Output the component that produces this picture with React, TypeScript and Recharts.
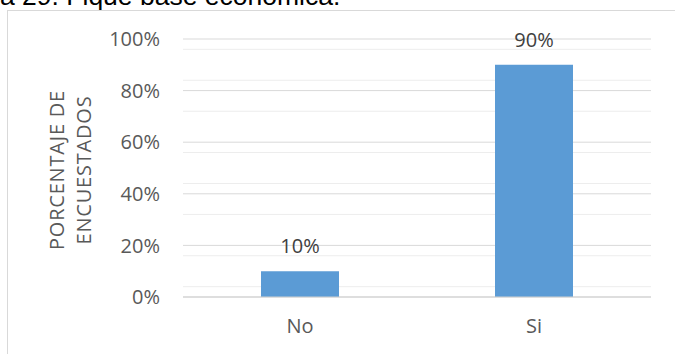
import React from "react";
import {
  BarChart,
  Bar,
  XAxis,
  YAxis,
  CartesianGrid,
  LabelList,
} from "recharts";

const categories = ["No", "Si"];
const shares = [10, 90];
const yTicks = [0, 20, 40, 60, 80, 100];
const minorTicks = [4, 8, 12, 16, 24, 28, 32, 36, 44, 48, 52, 56, 64, 68, 72, 76, 84, 88, 92, 96];
const yAxisLines = ["PORCENTAJE DE", "ENCUESTADOS"];
const caption = "a 29. Fique base económica.";

const data = categories.map((name, i) => ({ name, value: shares[i] }));

const FONT = "'Open Sans', sans-serif";
const pct = (v: number) => `${v}%`;

function AxisTitle(props: any) {
  const { viewBox } = props;
  const cy = viewBox.y + viewBox.height / 2 + 2;
  const xs = [viewBox.x + 56, viewBox.x + 83];
  return (
    <g>
      {yAxisLines.map((line, i) => (
        <text
          key={line}
          x={xs[i]}
          y={cy}
          transform={`rotate(-90, ${xs[i]}, ${cy})`}
          textAnchor="middle"
          dominantBaseline="central"
          fill="#595959"
          fontSize={20}
          letterSpacing={0.8}
          fontFamily={FONT}
        >
          {line}
        </text>
      ))}
    </g>
  );
}

export default function App() {
  return (
    <div
      style={{
        position: "absolute",
        left: 0,
        top: 0,
        width: 675,
        height: 354,
        overflow: "hidden",
        background: "#fff",
      }}
    >
      <div
        style={{
          position: "absolute",
          left: 0,
          top: -17,
          fontFamily: "'Liberation Sans', Arial, sans-serif",
          fontSize: 26.5,
          lineHeight: "26px",
          color: "#000",
          whiteSpace: "nowrap",
        }}
      >
        {caption}
      </div>
      <div
        style={{
          position: "absolute",
          left: 7,
          top: 10,
          width: 720,
          height: 400,
          border: "1px solid #d9d9d9",
        }}
      />
      <div style={{ position: "absolute", left: 0, top: 0 }}>
        <BarChart
          width={675}
          height={354}
          data={data}
          margin={{ top: 39, right: 24, bottom: 0, left: 0 }}
          style={{ fontFamily: FONT }}
        >
          <CartesianGrid
            vertical={false}
            horizontalValues={minorTicks}
            stroke="#ededed"
            strokeWidth={1}
          />
          <CartesianGrid
            vertical={false}
            horizontalValues={yTicks}
            stroke="#d9d9d9"
            strokeWidth={1}
          />
          <XAxis
            dataKey="name"
            height={57}
            tickLine={false}
            axisLine={{ stroke: "#d0d0d0" }}
            tickMargin={16}
            tick={{ fill: "#595959", fontSize: 20 }}
          />
          <YAxis
            domain={[0, 100]}
            ticks={yTicks}
            tickFormatter={pct}
            width={183}
            axisLine={false}
            tickLine={false}
            tickSize={0}
            tickMargin={23}
            tick={{ fill: "#595959", fontSize: 20 }}
            label={<AxisTitle />}
          />
          <Bar dataKey="value" fill="#5b9bd5" barSize={78} isAnimationActive={false}>
            <LabelList
              dataKey="value"
              position="top"
              offset={18}
              formatter={(v: any) => pct(v)}
              fill="#404040"
              fontSize={20}
            />
          </Bar>
        </BarChart>
      </div>
    </div>
  );
}
